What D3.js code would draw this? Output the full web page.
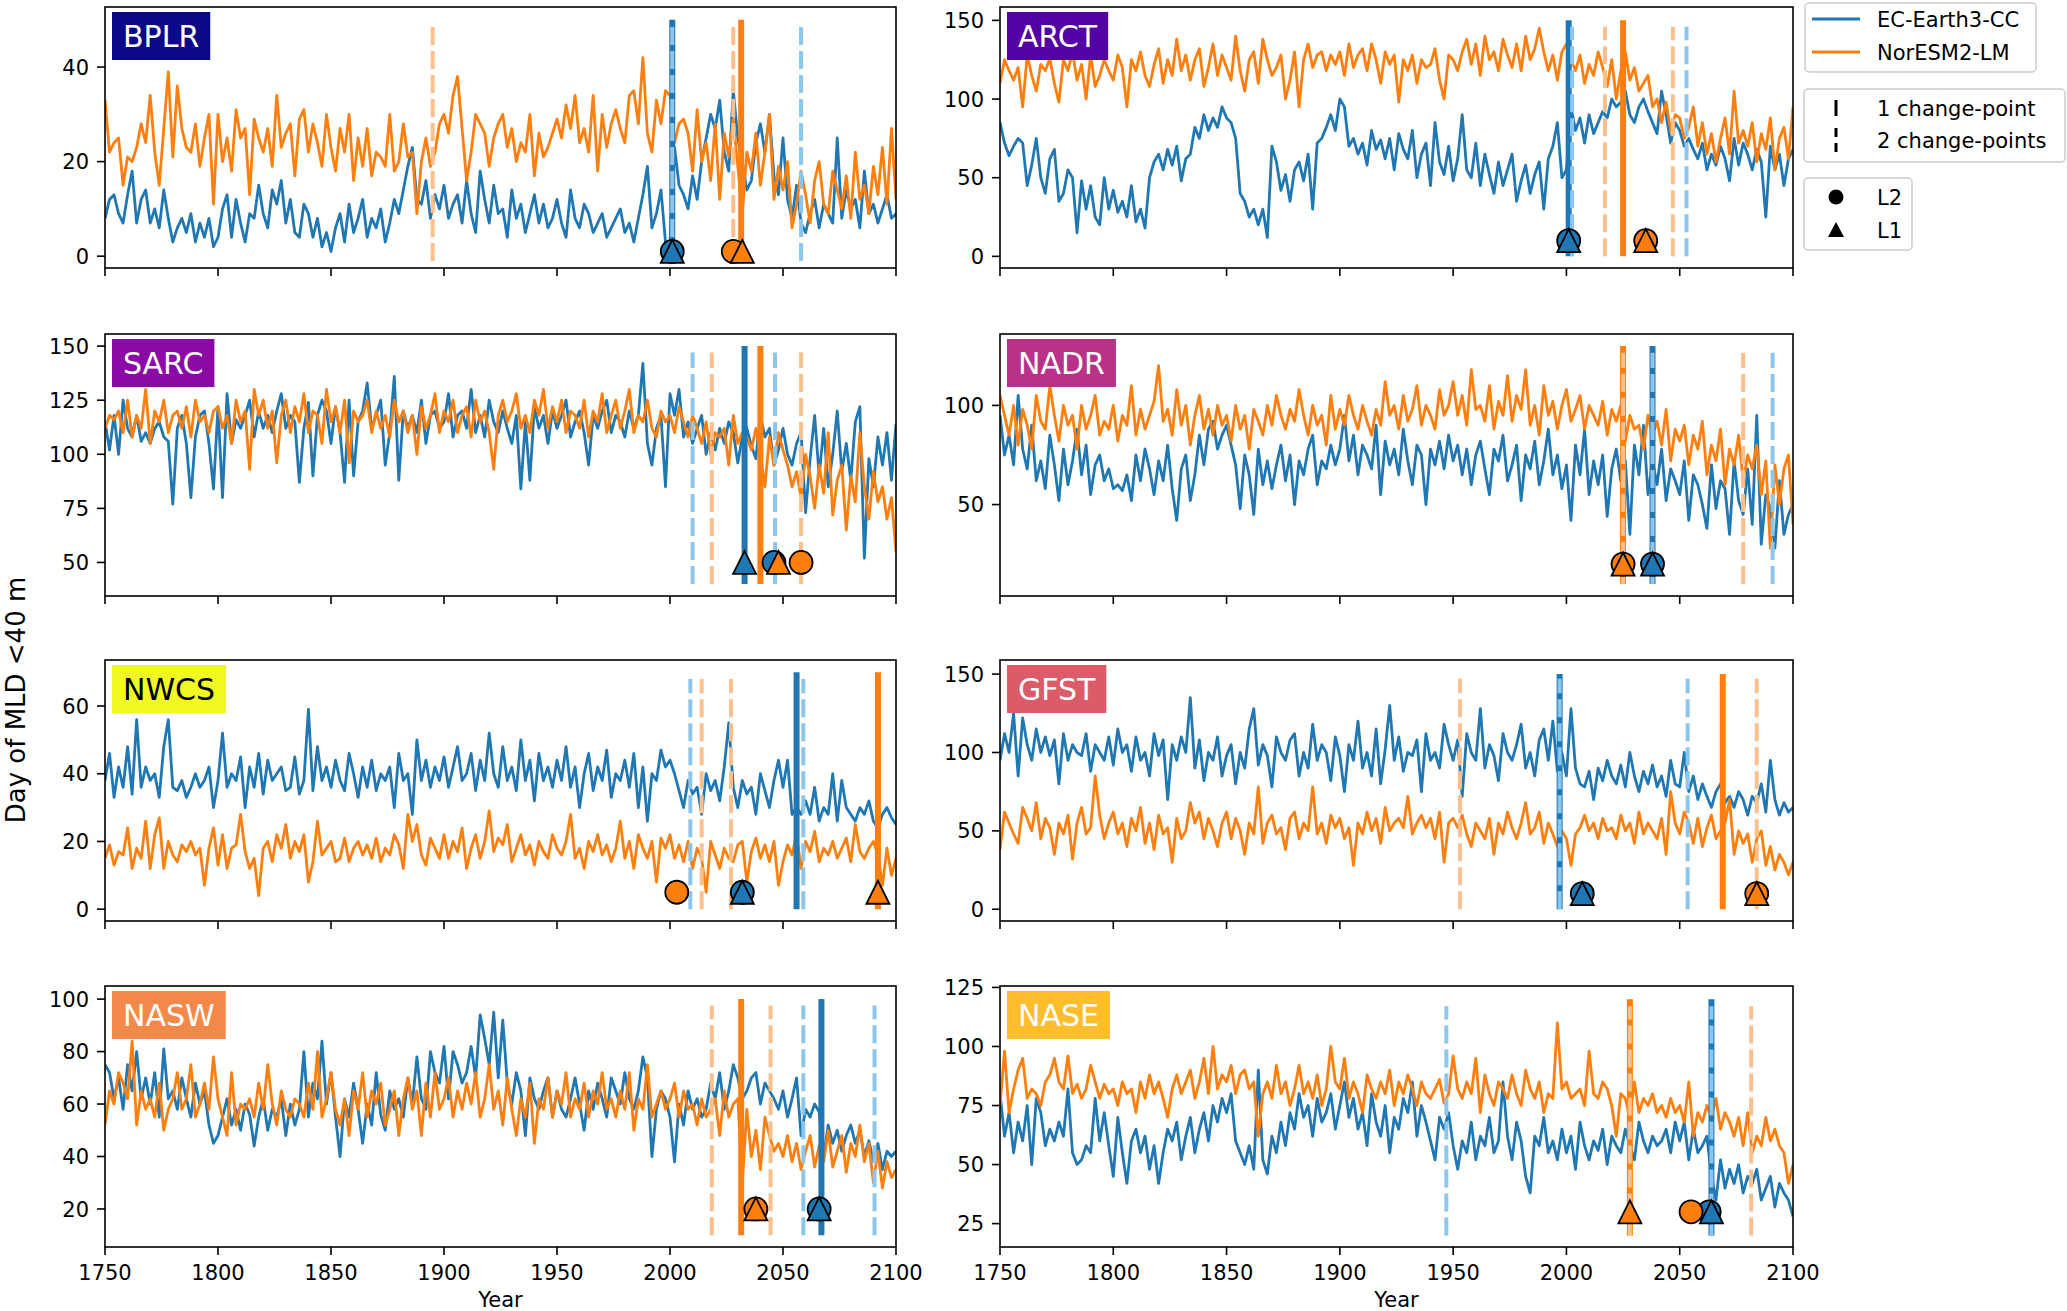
<!DOCTYPE html>
<html>
<head>
<meta charset="utf-8">
<script src="https://cdn.jsdelivr.net/npm/d3@7"></script>
<style>
  body { margin: 0; background: #fff; }
  svg { display: block; font-family: "DejaVu Sans", sans-serif; }
</style>
</head>
<body>
<div id="chart"></div>
<script>
// biennial values, 1750..2100
const years = d3.range(1750, 2101, 2);

const regions = ["BPLR", "ARCT", "SARC", "NADR", "NWCS", "GFST", "NASW", "NASE"];
const regionColors = ["#0d0887", "#5302a3", "#8b0aa5", "#b83289", "#f0f921", "#db5c68", "#f48849", "#febd2a"];

// EC-Earth3-CC
const ecBPLR = [8,12,13,9,7,13,18,7,12,14,7,10,6,14,8,3,6,8,5,9,3,7,4,8,2,
  4,10,13,4,12,7,3,9,8,15,9,6,14,11,16,7,12,5,4,11,9,4,8,2,5,
  1,6,9,3,11,5,8,12,4,8,6,10,3,7,12,9,14,19,23,12,11,16,8,13,10,
  15,8,11,13,7,16,9,5,18,12,7,15,9,10,4,14,8,11,5,9,13,7,11,6,8,
  12,7,4,14,8,6,11,9,5,7,9,4,6,8,10,5,7,3,8,13,19,6,9,14,3,
  3,23,15,13,10,17,12,20,25,30,27,33,22,18,35,25,20,14,16,24,28,22,30,17,13,
  25,12,8,15,7,5,9,12,6,11,9,7,25,8,14,10,12,6,18,9,11,7,10,13,8,9];
const ecARCT = [85,72,64,70,75,72,45,58,75,50,40,62,68,35,40,55,50,15,48,30,45,25,20,50,30,
  42,28,35,25,45,22,30,18,50,60,65,55,68,58,70,48,62,65,82,75,90,80,88,82,95,
  88,85,75,40,35,25,30,20,30,12,70,60,42,52,35,55,60,48,65,30,72,75,82,90,80,
  100,95,70,75,65,72,58,80,68,74,62,75,55,78,68,62,80,50,65,72,45,85,60,52,70,
  48,62,90,55,50,72,45,65,52,40,60,45,55,65,35,48,58,40,52,60,30,62,70,85,50,
  55,95,80,88,72,90,78,85,92,88,100,95,98,105,90,85,95,100,92,85,78,105,90,72,85,
  80,70,75,68,62,72,55,65,58,70,62,48,75,58,72,65,55,68,60,25,70,55,65,45,62,68];
const ecSARC = [115,102,118,100,125,112,108,118,106,110,105,112,115,108,106,77,112,118,105,80,108,118,120,105,84,
  122,80,128,105,116,112,118,125,108,120,112,118,110,120,128,112,118,115,87,112,124,90,118,125,120,
  105,122,110,87,125,90,115,120,133,112,118,125,95,110,136,88,120,112,118,110,125,105,118,120,112,
  115,128,108,118,120,112,130,110,118,108,125,115,110,120,112,105,118,84,115,88,122,112,118,105,120,
  112,118,125,108,115,120,110,95,118,112,120,125,110,118,115,108,120,112,118,142,105,95,112,118,85,
  128,118,130,108,115,105,112,118,100,110,102,112,105,115,110,96,108,112,104,98,118,108,112,95,102,
  112,100,95,105,110,73,98,118,90,112,85,100,120,92,105,88,115,122,52,98,85,108,95,110,88,114];
const ecNADR = [95,75,85,70,105,78,68,90,62,72,58,85,70,52,78,60,72,88,65,80,55,70,75,62,68,
  58,60,57,65,52,75,62,78,68,55,72,62,80,58,42,68,75,52,65,85,70,88,92,78,85,
  90,80,70,48,75,65,45,78,60,72,58,70,80,62,75,50,72,65,78,85,60,72,68,80,70,
  78,95,72,85,65,80,75,68,90,55,82,70,78,65,88,72,60,80,75,50,78,70,82,68,85,
  72,80,65,78,60,75,82,68,55,78,72,85,62,70,80,52,75,68,82,60,72,88,65,75,58,
  70,42,80,65,88,55,72,60,75,44,68,78,62,72,35,80,65,90,55,72,60,78,52,68,62,
  55,72,42,65,60,50,38,70,48,62,58,35,72,52,45,68,40,95,30,55,48,28,62,35,45,50];
const ecNWCS = [38,46,33,42,36,48,34,56,36,42,38,40,33,48,56,36,35,38,33,36,40,36,38,42,30,
  38,52,36,40,38,45,30,42,36,46,34,44,38,40,42,35,36,45,34,38,59,35,48,38,42,
  36,44,38,35,46,40,33,42,36,44,35,40,38,42,30,46,38,40,28,50,38,44,36,42,38,
  45,36,42,48,38,40,46,35,44,38,52,40,36,48,38,42,35,50,38,44,32,46,38,42,36,
  44,38,48,36,42,30,40,46,35,42,38,47,33,40,38,44,36,46,30,42,26,40,38,47,42,
  44,40,35,30,38,34,36,28,40,35,38,32,42,55,36,30,38,34,36,28,40,35,30,38,44,
  36,44,28,30,28,32,28,36,26,30,28,40,26,38,30,28,26,30,28,32,26,24,28,30,27,25];
const ecGFST = [95,112,100,125,85,122,105,95,115,100,110,98,108,80,112,95,105,100,98,112,88,105,100,95,110,
  92,115,100,105,88,110,95,100,85,112,98,108,70,105,95,110,100,135,90,108,82,100,95,110,85,
  98,105,80,100,90,115,128,92,105,98,78,110,100,95,108,112,85,100,90,118,95,105,100,82,110,
  98,75,105,95,120,90,100,85,115,80,102,130,95,110,88,100,98,108,75,112,95,100,90,118,105,
  95,108,72,112,100,95,128,90,105,98,82,112,100,95,105,118,90,100,85,108,115,95,120,88,100,
  85,128,90,80,78,88,70,90,82,95,85,80,92,78,100,85,75,88,80,92,78,85,72,95,80,
  78,100,75,85,70,80,72,65,75,80,68,72,65,75,70,60,72,68,80,62,95,70,60,68,62,65];
const ecNASW = [75,72,62,70,58,75,65,80,62,70,60,72,55,81,62,65,58,70,62,55,68,60,65,52,45,
  48,55,62,52,58,50,60,56,44,55,62,50,58,55,62,48,60,52,58,80,55,68,62,84,60,
  72,55,40,62,55,68,58,45,60,52,72,56,50,65,58,62,55,70,60,78,62,58,80,72,68,
  82,62,80,75,68,72,82,70,94,85,75,95,70,92,68,60,72,65,48,70,62,58,65,70,55,
  65,58,55,62,70,60,50,65,58,68,62,55,70,65,60,72,62,58,65,78,70,40,58,65,62,
  55,38,60,52,65,58,62,55,58,68,62,72,58,65,75,70,62,65,70,72,60,68,65,62,58,
  65,55,62,70,48,58,55,60,57,40,52,45,50,42,48,52,45,50,40,46,38,45,35,42,40,42];
const ecNASE = [80,62,72,55,68,60,75,50,78,72,58,65,60,68,62,82,55,50,52,58,55,78,60,72,58,
  45,70,55,42,60,65,55,62,48,58,42,55,65,60,68,52,62,70,55,65,72,60,75,68,78,
  72,80,60,55,50,58,48,90,52,46,62,55,68,58,72,65,80,70,75,62,78,68,72,80,65,
  75,85,70,78,65,72,58,80,68,62,75,55,70,65,78,72,85,62,75,68,60,52,70,65,72,
  58,48,60,55,68,52,62,58,70,55,60,85,62,52,68,60,45,38,62,58,70,55,60,52,65,
  55,62,48,68,58,52,60,56,65,50,62,58,55,65,58,52,68,60,55,62,58,60,65,55,68,
  60,68,52,65,55,58,62,45,35,52,40,48,42,50,38,45,42,48,35,40,45,32,42,38,35,28];

// NorESM2-LM
const norBPLR = [33,22,24,25,15,21,20,23,28,24,34,22,15,27,39,21,36,27,23,22,28,19,25,30,11,
  30,20,25,18,31,25,27,13,29,25,22,27,19,34,23,26,28,17,29,31,22,28,24,19,30,
  23,18,27,22,30,16,25,19,27,17,22,21,19,30,18,20,28,21,22,9,20,25,19,22,28,
  30,26,34,38,27,16,22,30,28,26,19,25,28,30,23,27,20,24,22,30,17,26,21,23,26,
  29,25,32,27,34,24,27,22,34,18,30,23,28,31,27,24,34,35,28,42,26,22,33,28,35,
  34,24,28,29,26,18,31,20,24,16,28,12,26,21,29,19,9,22,18,26,15,22,30,12,19,
  14,20,6,11,18,13,7,16,20,11,9,18,14,10,17,8,22,12,15,9,19,13,23,11,27,12];
const norARCT = [110,125,118,112,120,95,128,115,105,122,118,126,110,98,125,118,130,112,122,100,128,108,115,125,118,
  112,128,120,95,125,118,130,115,108,122,132,110,125,115,138,118,128,112,125,132,108,120,135,115,128,
  120,112,140,118,105,125,130,110,138,125,115,120,128,100,112,130,95,125,135,120,128,130,118,128,122,
  130,115,135,120,128,132,118,135,125,110,130,122,128,98,125,118,128,110,125,120,122,132,112,100,128,
  125,118,130,138,122,135,115,140,125,130,118,138,128,120,135,118,140,125,132,145,130,118,128,112,130,
  135,125,118,128,110,122,115,130,120,108,125,100,118,130,112,120,105,110,115,95,100,85,98,80,90,
  88,75,82,95,70,85,65,78,60,75,88,65,105,72,80,70,85,60,78,68,88,55,75,82,62,95];
const norSARC = [112,118,116,120,110,125,108,118,112,130,105,120,115,125,110,118,120,112,122,108,125,115,118,110,120,
  122,112,118,105,125,115,120,93,130,118,125,112,120,96,118,125,110,122,115,128,110,120,118,105,130,
  115,122,110,125,96,120,115,118,125,110,120,112,118,108,125,115,120,110,118,100,122,112,118,128,110,
  120,115,125,110,118,122,108,125,115,120,110,93,118,125,115,120,128,112,118,110,125,118,130,112,122,
  115,125,110,120,118,112,125,108,120,115,128,110,118,125,112,120,130,110,118,115,125,112,108,120,115,
  118,110,122,115,108,118,112,105,115,100,110,108,112,95,118,105,110,108,102,112,100,85,108,95,110,
  102,95,85,92,80,100,90,75,95,82,110,72,88,95,65,90,78,110,85,70,92,78,85,70,80,55];
const norNADR = [105,95,85,100,80,98,90,78,105,92,88,110,95,82,100,90,95,78,100,88,95,105,85,92,88,
  100,82,95,90,110,85,98,88,95,102,120,92,98,85,108,90,100,80,95,105,88,98,85,100,90,
  95,82,100,88,95,78,98,92,85,100,90,105,95,88,98,92,108,95,85,100,90,95,80,105,88,
  98,90,105,95,88,100,92,85,98,90,112,95,100,88,105,92,98,110,90,100,95,88,108,95,100,
  112,95,105,90,118,98,100,92,110,88,102,95,115,92,105,98,118,90,100,85,110,95,102,88,100,
  108,92,98,105,88,100,95,90,102,85,98,92,100,82,95,88,90,78,95,85,92,80,98,72,88,
  82,90,70,85,78,92,65,80,72,88,60,78,70,85,62,75,68,80,55,72,28,70,50,68,75,40];
const norNWCS = [15,19,13,17,16,24,12,18,15,26,12,22,27,12,20,16,14,19,17,20,16,18,7,18,24,
  13,22,12,18,19,28,17,12,15,4,18,20,14,22,18,25,15,20,17,22,8,14,26,16,18,
  20,14,15,21,14,18,20,16,19,15,21,14,18,16,22,19,12,28,20,25,16,13,21,18,15,
  22,15,20,17,24,12,18,22,15,20,29,17,21,19,25,14,18,22,16,19,13,20,17,15,22,
  18,16,20,28,15,18,12,20,17,22,16,19,14,18,26,15,20,12,22,18,15,20,8,21,18,
  22,15,19,14,20,12,18,15,5,20,16,12,18,15,14,19,20,8,17,21,15,19,14,20,7,
  14,19,16,22,12,20,17,23,14,18,16,20,15,18,21,14,25,17,15,18,20,16,7,18,10,15];
const norGFST = [38,62,55,48,42,65,58,50,68,45,58,52,35,55,48,60,32,55,65,48,52,85,60,45,55,
  62,48,55,40,58,50,65,42,55,38,60,48,52,30,58,45,50,68,55,62,45,58,50,40,55,
  62,45,58,50,35,55,48,78,42,55,60,48,52,38,58,62,45,55,50,78,48,55,42,60,52,
  58,45,52,28,55,48,62,50,58,42,65,50,55,58,52,72,48,55,60,52,58,45,62,30,55,
  58,52,60,48,40,55,50,45,58,35,55,48,62,52,45,55,68,48,52,62,42,55,48,40,50,
  45,28,48,52,60,50,55,45,58,50,52,45,60,50,55,42,62,48,55,50,45,58,35,75,55,
  48,62,55,42,58,40,52,60,45,50,55,70,35,50,42,48,30,45,50,28,40,25,35,30,22,30];
const norNASW = [52,65,60,72,68,62,84,52,65,58,62,55,68,50,58,62,72,58,62,75,55,60,68,58,78,
  62,55,48,72,52,60,58,62,55,68,58,75,60,52,65,58,55,62,60,55,68,58,80,55,62,
  72,58,52,62,48,65,58,72,55,65,60,68,52,58,65,48,62,70,58,65,48,68,55,72,58,
  62,70,55,65,58,68,60,72,55,62,75,58,65,52,70,58,48,62,55,68,45,62,58,70,55,
  65,60,72,55,62,58,68,55,65,60,72,58,62,55,65,58,72,50,62,58,75,55,60,65,58,
  62,68,55,65,58,60,52,62,55,58,62,48,65,55,60,62,30,58,40,50,35,55,48,42,45,
  40,48,38,45,35,42,48,36,44,38,50,36,42,48,34,45,40,52,38,45,30,42,28,38,32,35];
const norNASE = [75,98,72,82,90,95,78,82,80,75,85,88,95,85,82,96,80,84,78,82,92,85,78,84,80,
  82,75,85,80,82,72,85,78,88,80,85,78,70,82,88,80,85,90,78,85,95,80,100,82,88,
  85,92,80,88,90,82,85,62,80,85,78,92,80,85,75,82,92,80,85,78,88,75,82,100,85,
  82,95,78,85,80,72,88,82,78,85,80,90,75,85,80,88,82,75,85,80,78,82,86,76,80,
  96,82,78,85,80,95,72,88,80,75,85,82,78,88,80,75,90,82,78,85,72,80,78,110,82,
  85,78,80,82,75,98,80,78,85,82,75,62,80,78,70,85,72,78,75,80,72,75,70,78,72,
  75,68,85,62,72,68,75,70,78,65,72,68,62,70,58,72,55,62,58,70,60,65,58,55,42,50];

const ecSeries = [ecBPLR, ecARCT, ecSARC, ecNADR, ecNWCS, ecGFST, ecNASW, ecNASE];
const norSeries = [norBPLR, norARCT, norSARC, norNADR, norNWCS, norGFST, norNASW, norNASE];

// y-axis ranges and ticks per region
const yDomains = [[-2.5, 52.7], [-7.4, 158.5], [34.5, 155.6], [3.9, 136], [-3.5, 73.6], [-7.5, 159], [5.5, 105], [15.1, 125.6]];
const yTicks = [[0, 20, 40], [0, 50, 100, 150], [50, 75, 100, 125, 150], [50, 100], [0, 20, 40, 60], [0, 50, 100, 150], [20, 40, 60, 80, 100], [25, 50, 75, 100, 125]];

// change-point lines: lower end, top of 1-cp line, top of 2-cp line
const cpLow = [-1, 0, 40, 10, 0, 0, 10, 20];
const cpTopSolid = [50, 150, 150, 130, 70, 150, 100, 120];
const cpTopDash = [48.5, 146, 147, 126.6, 68, 147, 97.6, 117];
const markerY = [1, 10, 50, 20, 5, 10, 20, 30];

// change-point years
const ecSolid = [[2001], [2001], [2033], [2038], [2056], [1997], [2067], [2064]];
const ecDash = [[2001, 2058], [2002.5, 2053], [2010, 2046.5], [2038, 2091], [2009, 2059], [1997, 2053.5], [2059, 2090.5], [1947, 2064]];
const norSolid = [[2031.5], [2025], [2040], [2025], [2092], [2069], [2031.5], [2028]];
const norDash = [[1895, 2028], [2017, 2047], [2018.5, 2058], [2025, 2078], [2014, 2027], [1953, 2084], [2018.5, 2044.5], [2028, 2081.5]];
const ecL2 = [2001, 2001, 2046, 2038, 2032, 2007, 2066, 2063];
const ecL1 = [2001, 2001, 2033, 2038, 2032, 2007, 2066, 2064];
const norL2 = [2028, 2035, 2058, 2025, 2003, 2084, 2038, 2055];
const norL1 = [2032, 2035, 2048, 2025, 2092, 2084, 2038, 2028];

const modelNames = ["EC-Earth3-CC", "NorESM2-LM"];
const BLUE = "#1f77b4", ORANGE = "#ff7f0e";
const LIGHT_BLUE = "#8cc6ec", LIGHT_ORANGE = "#fdbf8b";

const W = 2067, H = 1311;
const colX = [[105, 896], [1000, 1793]];
const rowY = [[7, 268], [334, 596], [660, 921], [986, 1247]];

const svg = d3.select("#chart").append("svg")
  .attr("width", W).attr("height", H)
  .attr("viewBox", `0 0 ${W} ${H}`);

const x = d3.scaleLinear().domain([1750, 2100]);

regions.forEach((name, i) => {
  const col = i % 2, row = Math.floor(i / 2);
  const [x0, x1] = colX[col], [y0, y1] = rowY[row];
  const xs = x.copy().range([x0, x1]);
  const ys = d3.scaleLinear().domain(yDomains[i]).range([y1, y0]);

  const g = svg.append("g");
  g.append("clipPath").attr("id", "clip" + i)
    .append("rect").attr("x", x0).attr("y", y0).attr("width", x1 - x0).attr("height", y1 - y0);
  const plot = g.append("g").attr("clip-path", `url(#clip${i})`);

  const line = d3.line().x((d, k) => xs(years[k])).y(d => ys(d));
  plot.append("path").datum(ecSeries[i]).attr("d", line)
    .attr("fill", "none").attr("stroke", BLUE).attr("stroke-width", 2.8).attr("stroke-linejoin", "round");
  plot.append("path").datum(norSeries[i]).attr("d", line)
    .attr("fill", "none").attr("stroke", ORANGE).attr("stroke-width", 2.8).attr("stroke-linejoin", "round");

  // 1 change-point: solid lines
  const solid = ecSolid[i].map(v => ({ v, c: BLUE })).concat(norSolid[i].map(v => ({ v, c: ORANGE })));
  plot.selectAll(".cp1").data(solid).enter().append("line")
    .attr("x1", d => xs(d.v)).attr("x2", d => xs(d.v))
    .attr("y1", ys(cpLow[i])).attr("y2", ys(cpTopSolid[i]))
    .attr("stroke", d => d.c).attr("stroke-width", 6);
  // 2 change-points: light dashed lines
  const dashed = ecDash[i].map(v => ({ v, c: LIGHT_BLUE })).concat(norDash[i].map(v => ({ v, c: LIGHT_ORANGE })));
  plot.selectAll(".cp2").data(dashed).enter().append("line")
    .attr("x1", d => xs(d.v)).attr("x2", d => xs(d.v))
    .attr("y1", ys(cpLow[i])).attr("y2", ys(cpTopDash[i]))
    .attr("stroke", d => d.c).attr("stroke-width", 4)
    .attr("stroke-dasharray", "18,6");

  // markers: circles (L2) then triangles (L1)
  const my = ys(markerY[i]);
  const circles = [{ v: ecL2[i], c: BLUE }, { v: norL2[i], c: ORANGE }];
  const tris = [{ v: ecL1[i], c: BLUE }, { v: norL1[i], c: ORANGE }];
  g.selectAll(".l2").data(circles).enter().append("circle")
    .attr("cx", d => xs(d.v)).attr("cy", my).attr("r", 11.5)
    .attr("fill", d => d.c).attr("stroke", "#000").attr("stroke-width", 1.8);
  const s = 11.5;
  g.selectAll(".l1").data(tris).enter().append("path")
    .attr("d", d => { const cx = xs(d.v); return `M${cx},${my - s}L${cx - s},${my + s}L${cx + s},${my + s}Z`; })
    .attr("fill", d => d.c).attr("stroke", "#000").attr("stroke-width", 1.8).attr("stroke-linejoin", "miter");

  // frame
  g.append("rect").attr("x", x0).attr("y", y0).attr("width", x1 - x0).attr("height", y1 - y0)
    .attr("fill", "none").attr("stroke", "#000").attr("stroke-width", 1.6);

  // y axis
  const yAxis = g.append("g");
  yTicks[i].forEach(t => {
    yAxis.append("line").attr("x1", x0 - 8).attr("x2", x0).attr("y1", ys(t)).attr("y2", ys(t))
      .attr("stroke", "#000").attr("stroke-width", 1.6);
    yAxis.append("text").attr("x", x0 - 16).attr("y", ys(t)).attr("dy", "0.36em")
      .attr("text-anchor", "end").attr("font-size", 21).text(t);
  });
  // x axis
  const xAxis = g.append("g");
  xs.ticks(7).forEach(t => {
    xAxis.append("line").attr("x1", xs(t)).attr("x2", xs(t)).attr("y1", y1).attr("y2", y1 + 8)
      .attr("stroke", "#000").attr("stroke-width", 1.6);
    if (row === 3) {
      xAxis.append("text").attr("x", xs(t)).attr("y", y1 + 33)
        .attr("text-anchor", "middle").attr("font-size", 21).text(t);
    }
  });
  if (row === 3) {
    g.append("text").attr("x", (x0 + x1) / 2).attr("y", y1 + 60)
      .attr("text-anchor", "middle").attr("font-size", 21).text("Year");
  }

  // region label box
  const lab = g.append("g");
  const txt = lab.append("text").attr("font-size", 30)
    .attr("fill", name === "NWCS" ? "#000" : "#fff").text(name);
  const tw = txt.node().getComputedTextLength();
  lab.insert("rect", "text").attr("x", x0 + 7).attr("y", y0 + 5)
    .attr("width", tw + 22).attr("height", 48).attr("fill", regionColors[i]);
  txt.attr("x", x0 + 7 + 11).attr("y", y0 + 5 + 24).attr("dy", "0.36em");
});

// shared y label
svg.append("text")
  .attr("transform", "translate(25,700) rotate(-90)")
  .attr("text-anchor", "middle").attr("font-size", 26)
  .text("Day of MLD <40 m");

// legends
const leg = svg.append("g").attr("font-size", 21);
function legendBox(x0, y0, w, h) {
  leg.append("rect").attr("x", x0).attr("y", y0).attr("width", w).attr("height", h)
    .attr("rx", 4).attr("fill", "#fff").attr("fill-opacity", 0.8)
    .attr("stroke", "#cccccc").attr("stroke-width", 1.5);
}
legendBox(1805, 3, 231, 69);
[BLUE, ORANGE].forEach((c, k) => {
  const yy = 19 + k * 33;
  leg.append("line").attr("x1", 1812).attr("x2", 1860).attr("y1", yy).attr("y2", yy)
    .attr("stroke", c).attr("stroke-width", 2.8);
  leg.append("text").attr("x", 1877).attr("y", yy).attr("dy", "0.36em").text(modelNames[k]);
});

legendBox(1804, 89, 261, 73);
leg.append("line").attr("x1", 1836).attr("x2", 1836).attr("y1", 100).attr("y2", 116)
  .attr("stroke", "#000").attr("stroke-width", 3);
leg.append("line").attr("x1", 1836).attr("x2", 1836).attr("y1", 128).attr("y2", 153)
  .attr("stroke", "#000").attr("stroke-width", 3).attr("stroke-dasharray", "9,6");
leg.append("text").attr("x", 1877).attr("y", 108).attr("dy", "0.36em").text("1 change-point");
leg.append("text").attr("x", 1877).attr("y", 140).attr("dy", "0.36em").text("2 change-points");

legendBox(1804, 178, 108, 72);
leg.append("circle").attr("cx", 1836).attr("cy", 197).attr("r", 7.5).attr("fill", "#000");
leg.append("path").attr("d", "M1836,222L1828,237L1844,237Z").attr("fill", "#000");
leg.append("text").attr("x", 1877).attr("y", 197).attr("dy", "0.36em").text("L2");
leg.append("text").attr("x", 1877).attr("y", 230).attr("dy", "0.36em").text("L1");
</script>
</body>
</html>
